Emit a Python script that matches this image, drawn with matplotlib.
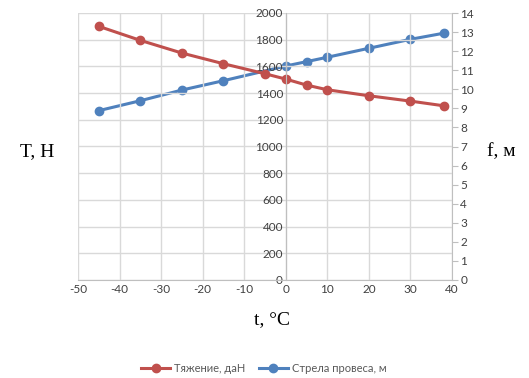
import matplotlib
matplotlib.use('Agg')
import matplotlib.pyplot as plt
from matplotlib.lines import Line2D

# temperature, C
t_tension = [-45, -35, -25, -15, -5, 0, 5, 10, 20, 30, 38]
tension = [1900, 1795, 1700, 1620, 1545, 1505, 1460, 1425, 1380, 1340, 1305]

t_sag = [-45, -35, -25, -15, 0, 5, 10, 20, 30, 38]
sag = [8.88, 9.40, 9.96, 10.45, 11.22, 11.45, 11.68, 12.15, 12.62, 12.94]

red = '#C0504D'
blue = '#4F81BD'
grid_c = '#D9D9D9'
tick_c = '#404040'

plt.rcParams['font.family'] = ['Lato', 'DejaVu Sans']
plt.rcParams['axes.unicode_minus'] = False

fig = plt.figure(figsize=(5.29, 3.78), dpi=100)
ax = fig.add_axes([78/529, 1 - 280/378, 374/529, 267/378])
ax2 = ax.twinx()

ax.set_xlim(-50, 40)
ax.set_ylim(0, 2000)
ax.set_xticks(range(-50, 41, 10))
ax.set_yticks(range(0, 2001, 200))
ax2.set_ylim(0, 14)
ax2.set_yticks(range(0, 15))

ax.grid(True, color=grid_c, lw=1)
ax.set_axisbelow(True)

for s in ['top', 'right']:
  ax.spines[s].set_visible(False)
ax.spines['left'].set_position(('data', 0))
ax.spines['left'].set_color('#BFBFBF')
ax.spines['bottom'].set_color('#BFBFBF')
for s in ['top', 'left', 'bottom']:
  ax2.spines[s].set_visible(False)
ax2.spines['right'].set_color('#BFBFBF')

ax.tick_params(axis='x', length=0, labelsize=8.5, labelcolor=tick_c, pad=3)
ax.tick_params(axis='y', length=0, labelsize=8.5, labelcolor=tick_c, pad=2)
ax2.tick_params(axis='y', length=4, color='#BFBFBF', labelsize=8.5,
                labelcolor=tick_c, pad=2)

ax2.plot(t_sag, sag, color=blue, lw=2.2, marker='o', ms=6)
ax.plot(t_tension, tension, color=red, lw=2.2, marker='o', ms=6)
ax.set_zorder(ax2.get_zorder() + 1)
ax.patch.set_visible(False)
ax2.patch.set_visible(True)
ax2.patch.set_facecolor('white')

serif = ['Liberation Serif', 'DejaVu Serif']
fig.text(37/529, 1 - 152/378, 'T, H', family=serif, fontsize=14,
         ha='center', va='center')
fig.text(501/529, 1 - 152/378, 'f, м', family=serif, fontsize=14,
         ha='center', va='center')
fig.text(272/529, 1 - 320/378, 't, °C', family=serif, fontsize=14,
         ha='center', va='center')

handles = [Line2D([], [], color=red, lw=2.2, marker='o', ms=6),
           Line2D([], [], color=blue, lw=2.2, marker='o', ms=6)]
leg = fig.legend(handles, ['Тяжение, даН', 'Стрела провеса, м'],
                 loc='center', bbox_to_anchor=(264/529, 1 - 368/378),
                 ncol=2, frameon=False, fontsize=8, handlelength=2.6,
                 columnspacing=1.2, handletextpad=0.4)
for txt in leg.get_texts():
  txt.set_color('#595959')

fig.savefig('out.png', dpi=100)
